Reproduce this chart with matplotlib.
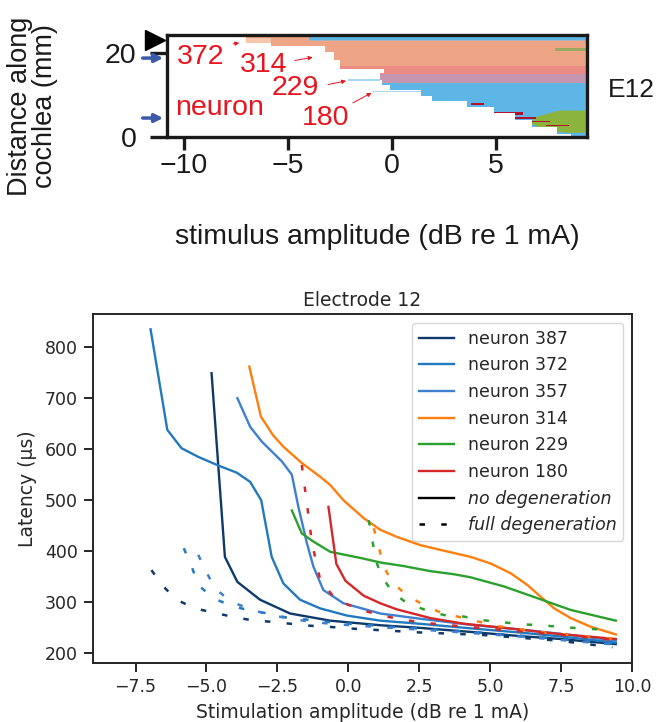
import matplotlib.pyplot as plt
from matplotlib.lines import Line2D

# ---------------- top map: first neuron to fire, electrode 12 ----------------
# white (sub-threshold) edge: position along cochlea (mm) -> amplitude (dB)
map_pos = [0.0, 1.7, 3.3, 4.9, 6.5, 8.1, 9.3, 10.5, 12.0, 13.0, 14.5, 16.0, 16.6, 17.5, 19.5, 21.0, 22.4, 23.6, 24.4]
map_thr = [8.6, 7.9, 6.7, 5.9, 4.9, 3.6, 1.9, 1.4, -0.1, -0.5, -0.6, -0.4, -2.5, -2.5, -2.8, -3.2, -5.8, -7.0, -7.0]

# coloured bands (each runs to the right edge)
band_lo = [0.0, 12.9, 15.0, 17.0, 23.0]
band_hi = [12.9, 15.0, 17.0, 24.4, 24.4]
band_x0 = [-11.0, -11.0, -11.0, -11.0, -4.0]
band_col = ['#5eb6e6', '#c596b0', '#ec8a84', '#eea585', '#5eb6e6']

# green patch low and to the right
green_pos = [1.2, 2.0, 3.5, 5.0, 6.5]
green_x0 = [8.3, 7.2, 6.6, 6.9, 8.0]

# dark red streaks
red_x0 = [3.8, 4.8, 5.8, 6.6, 7.4]
red_x1 = [4.4, 6.3, 6.9, 7.6, 8.5]
red_y0 = [7.7, 5.4, 4.4, 3.6, 2.6]
red_y1 = [8.1, 6.0, 4.8, 4.0, 3.0]

# ---------------- latency curves ----------------
amp_387 = [-4.82, -4.35, -3.91, -3.11, -2.05, -0.64, 1.13, 2.5, 4.3, 6.0, 7.5, 9.43]
lat_387 = [749, 389, 340, 305, 278, 264, 255, 250, 242, 234, 228, 218]
amp_372 = [-6.97, -6.38, -5.88, -5.29, -4.58, -3.93, -3.46, -3.07, -2.70, -2.29, -1.70, -0.99, -0.05, 1.13, 2.5, 4.3, 6.0, 7.5, 9.43]
lat_372 = [835, 638, 602, 585, 568, 554, 536, 500, 389, 337, 305, 288, 274, 264, 258, 249, 241, 233, 221]
amp_357 = [-3.91, -3.46, -3.05, -2.34, -1.99, -1.76, -1.46, -1.23, -0.88, -0.17, 1.13, 2.5, 4.3, 6.0, 7.5, 9.43]
lat_357 = [700, 644, 615, 576, 550, 487, 416, 370, 324, 298, 278, 268, 256, 247, 238, 225]
amp_314 = [-3.49, -3.08, -2.66, -2.29, -1.64, -0.99, -0.64, -0.17, 0.54, 1.13, 1.72, 2.54, 3.3, 4.31, 5.02, 5.72, 6.31, 6.78, 7.26, 7.84, 8.55, 9.43]
lat_314 = [762, 664, 628, 605, 573, 546, 530, 500, 465, 442, 428, 412, 402, 389, 376, 357, 334, 311, 288, 269, 252, 237]
amp_229 = [-1.99, -1.64, -1.23, -0.64, 0.5, 1.13, 1.95, 2.9, 3.72, 4.31, 5.49, 6.67, 7.84, 9.43]
lat_229 = [480, 435, 419, 399, 386, 378, 371, 361, 355, 349, 331, 308, 285, 264]
amp_180 = [-0.70, -0.42, -0.10, 0.54, 1.13, 1.72, 2.9, 4.07, 5.49, 7.25, 9.43]
lat_180 = [487, 375, 342, 313, 298, 286, 269, 258, 250, 239, 228]

# full degeneration
amp_387_deg = [-6.94, -6.52, -6.05, -5.41, -4.76, -4.12, -3.42, -2.76, -2.05, -1.34, -0.70, -0.05, 0.59, 2.5, 4.72, 7.38, 9.31]
lat_387_deg = [363, 331, 305, 288, 280, 272, 265, 262, 258, 254, 252, 249, 247, 241, 236, 225, 212]
amp_372_deg = [-5.8, -5.52, -5.29, -4.76, -4.12, -3.48, -2.82, -2.17, -1.46, -0.82, -0.17, 1.5, 3.5, 6.0, 9.43]
lat_372_deg = [406, 370, 334, 308, 293, 284, 278, 270, 266, 262, 259, 252, 245, 235, 219]
amp_357_deg = [-5.29, -4.99, -4.7, -4.12, -3.48, -2.82, -2.17, -1.46, -0.82, -0.17, 1.5, 3.5, 6.0, 9.43]
lat_357_deg = [393, 358, 327, 301, 287, 276, 269, 263, 259, 256, 250, 243, 233, 217]
amp_314_deg = [0.9, 1.07, 1.25, 1.54, 2.07, 2.66, 3.25, 4.07, 4.6, 5.3, 7.0, 9.43]
lat_314_deg = [445, 409, 370, 340, 313, 295, 280, 269, 262, 253, 240, 228]
amp_229_deg = [0.72, 0.84, 0.96, 1.19, 1.54, 2.07, 2.72, 3.37, 4.07, 4.72, 5.43, 6.08, 6.79, 7.44, 8.14, 8.79]
lat_229_deg = [461, 425, 383, 350, 321, 298, 285, 275, 272, 265, 261, 257, 255, 252, 249, 247]
amp_180_deg = [-1.64, -1.46, -1.28, -0.99, -0.52, 0.0, 0.65, 1.36, 2.01, 3.0, 5.0, 7.5, 9.43]
lat_180_deg = [569, 494, 416, 344, 311, 295, 282, 272, 265, 258, 248, 236, 226]

neurons = ['387', '372', '357', '314', '229', '180']
colors = ['#0d3a6b', '#2279bd', '#3e7fcf', '#ff7f0e', '#2ca02c', '#d62728']
solid = [(amp_387, lat_387), (amp_372, lat_372), (amp_357, lat_357),
         (amp_314, lat_314), (amp_229, lat_229), (amp_180, lat_180)]
degen = [(amp_387_deg, lat_387_deg), (amp_372_deg, lat_372_deg), (amp_357_deg, lat_357_deg),
         (amp_314_deg, lat_314_deg), (amp_229_deg, lat_229_deg), (amp_180_deg, lat_180_deg)]

fig = plt.figure(figsize=(6.59, 7.22), dpi=100)

# ---------------- top panel ----------------
arial = 'Liberation Sans'
red = '#e8151f'
ink = '#1a1a1a'
axt = fig.add_axes([0.2534, 0.8098, 0.6373, 0.1417])
XR = 9.35
for lo, hi, x0, c in zip(band_lo, band_hi, band_x0, band_col):
    axt.fill_between([x0, XR], lo, hi, color=c, lw=0)
axt.fill_between([-4.0, XR], 23.0, 23.3, color='#f0b090', lw=0, alpha=0.5)
axt.fill_between([7.8, XR], 20.6, 21.4, color='#9aa860', lw=0)
axt.fill_betweenx(green_pos, green_x0, XR, color='#8ab43c', lw=0)
for x0, x1, y0, y1 in zip(red_x0, red_x1, red_y0, red_y1):
    axt.fill_between([x0, x1], y0, y1, color='#b3122e', lw=0)
axt.fill_betweenx(map_pos, -11, map_thr, step='mid', color='white', lw=0)
axt.fill_between([-2.1, -0.6], 13.4, 13.8, color='#aad8f2', lw=0)
axt.fill_between([-0.9, 1.4], 10.7, 11.1, color='#aad8f2', lw=0)
axt.fill_between([-7.0, -5.8], 22.4, 23.6, color='#f5c6aa', lw=0)

axt.set_xlim(-10.8, XR)
axt.set_ylim(0, 24.4)
axt.set_xticks([-10, -5, 0, 5])
axt.set_yticks([0, 20])
for s in axt.spines.values():
    s.set_linewidth(2.4)
    s.set_color(ink)
axt.tick_params(axis='x', direction='out', length=9, width=2.4, labelsize=20.5, pad=2,
                color=ink, labelcolor=ink)
axt.tick_params(axis='y', direction='out', length=12, width=2.4, labelsize=20.5, pad=10,
                color=ink, labelcolor=ink)
for lab in axt.get_xticklabels() + axt.get_yticklabels():
    lab.set_fontfamily(arial)
axt.set_xlabel('stimulus amplitude (dB re 1 mA)', fontsize=20.5, family=arial,
               color=ink, labelpad=33)

for txt, x, y in zip(['372', '314', '229', 'neuron', '180'],
                     [-10.33, -7.28, -5.76, -10.41, -4.32],
                     [17.6, 15.6, 10.1, 5.3, 2.9]):
    axt.text(x, y, txt, color=red, fontsize=20.5, family=arial, ha='left', va='baseline')
for (x0, y0), (x1, y1) in [((-7.76, 22.2), (-7.2, 22.6)), ((-4.8, 18.2), (-3.68, 19.2)),
                           ((-3.2, 12.45), (-2.08, 13.6)), ((-2.0, 7.9), (-0.87, 10.9))]:
    axt.annotate('', xy=(x1, y1), xytext=(x0, y0),
                 arrowprops=dict(arrowstyle='-|>', color=red, lw=0.7, mutation_scale=6))

axt.plot(-11.37, 23.2, marker='>', ms=15, color='black', clip_on=False, zorder=5)
for y in [18.9, 4.6]:
    axt.annotate('', xy=(-10.85, y), xytext=(-12.1, y), annotation_clip=False,
                 arrowprops=dict(arrowstyle='-|>', color='#3c5aa8', lw=2.5, mutation_scale=12))

fig.text(33 / 659, 1 - 106 / 722, 'Distance along\ncochlea (mm)', rotation=90,
         ha='center', va='center', multialignment='center', linespacing=0.95,
         fontsize=19.5, family=arial, color=ink)
fig.text(608 / 659, 1 - 90 / 722, 'E12', ha='left', va='center', fontsize=19,
         family=arial, color=ink)

# ---------------- bottom panel ----------------
dark = '0.15'
ax = fig.add_axes([0.1411, 0.0817, 0.8179, 0.4834])
for n, c, (xs, ys) in zip(neurons, colors, solid):
    ax.plot(xs, ys, color=c, lw=1.7, label='neuron ' + n)
for c, (xs, ys) in zip(colors, degen):
    ax.plot(xs, ys, color=c, lw=1.8, linestyle=(0, (2.2, 6.5)))

ax.set_xlim(-9, 10)
ax.set_ylim(181, 865)
ax.set_xticks([-7.5, -5.0, -2.5, 0.0, 2.5, 5.0, 7.5, 10.0])
ax.set_yticks([200, 300, 400, 500, 600, 700, 800])
for s in ax.spines.values():
    s.set_linewidth(1.4)
    s.set_color(dark)
ax.tick_params(direction='out', length=6.7, width=1.4, labelsize=12.5, pad=4,
               color=dark, labelcolor=dark)
ax.set_title('Electrode 12', fontsize=13.5, color=dark, pad=6)
ax.set_xlabel('Stimulation amplitude (dB re 1 mA)', fontsize=13.5, color=dark, labelpad=5)
ax.set_ylabel('Latency (µs)', fontsize=13.5, color=dark, labelpad=6)

handles, labels = ax.get_legend_handles_labels()
handles += [Line2D([], [], color='black', lw=1.7),
            Line2D([], [], color='black', lw=1.8, linestyle=(0, (2.2, 6.5)))]
labels += ['no degeneration', 'full degeneration']
leg = ax.legend(handles, labels, loc='upper right', fontsize=12.5)
for t in leg.get_texts()[-2:]:
    t.set_fontstyle('italic')
for t in leg.get_texts():
    t.set_color(dark)

fig.savefig('out.png', dpi=100)
plt.close(fig)
